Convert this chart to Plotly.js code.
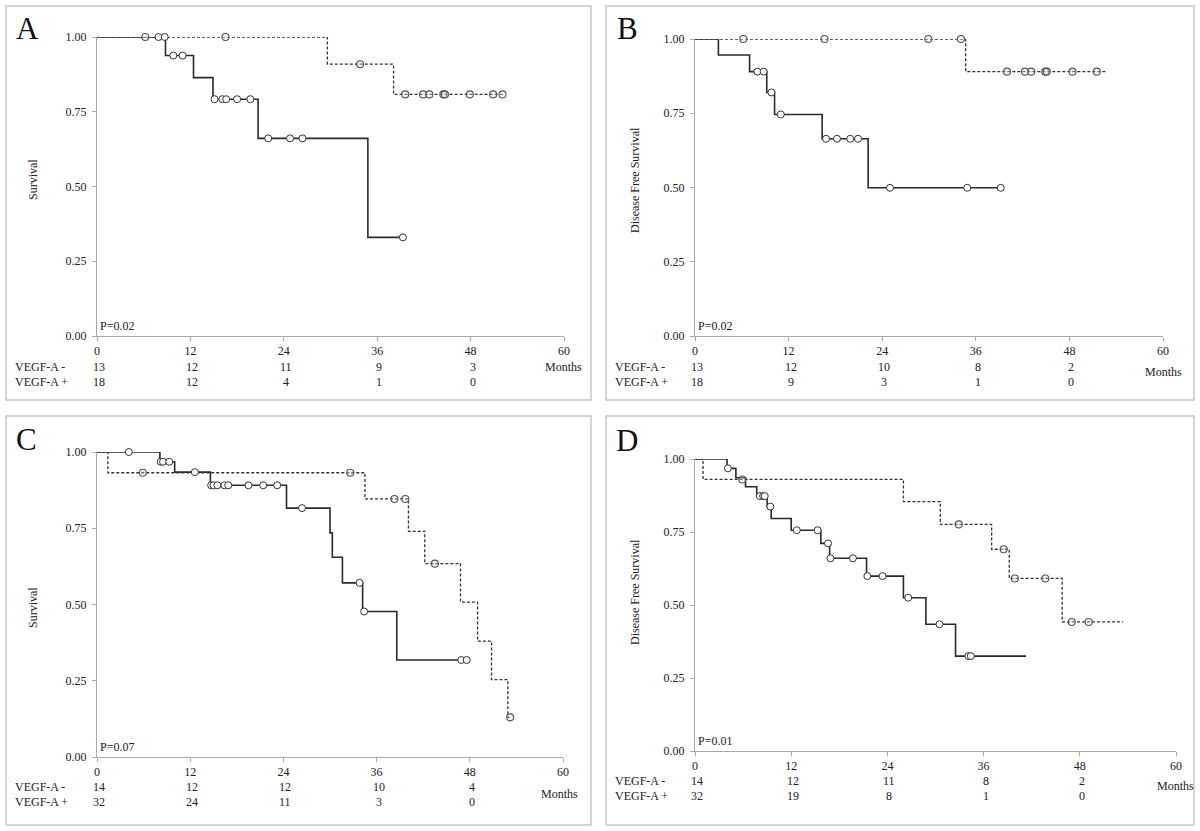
<!DOCTYPE html>
<html><head><meta charset="utf-8">
<script src="https://cdn.plot.ly/plotly-3.0.1.min.js"></script>
<style>html,body{margin:0;padding:0;background:#fff}#chart{width:1200px;height:831px}</style>
</head><body><div id="chart"></div>
<script>
// ---------------- DATA ----------------
const monthTicks = [0, 12, 24, 36, 48, 60];
const survTicks = [0, 0.25, 0.5, 0.75, 1];
const rowLabels = ['VEGF-A -', 'VEGF-A +'];
const panelLetters = ['A', 'B', 'C', 'D'];
const yTitles = ['Survival', 'Disease Free Survival', 'Survival', 'Disease Free Survival'];
const pValues = ['P=0.02', 'P=0.02', 'P=0.07', 'P=0.01'];

// Panel A (overall survival)
const aNegDropT = [29.6, 38.1];
const aNegDropS = [0.909, 0.808];
const aNegEnd = 52.1;
const aNegCens = [6.2, 16.5, 33.8, 39.6, 41.9, 42.7, 44.5, 44.7, 47.9, 50.9, 52.1];
const aPosDropT = [8.8, 12.4, 14.9, 20.7, 34.8];
const aPosDropS = [0.938, 0.864, 0.792, 0.661, 0.330];
const aPosEnd = 39.3;
const aPosCens = [7.9, 8.7, 9.8, 11.0, 15.1, 16.1, 16.6, 18.0, 19.7, 22.0, 24.8, 26.4, 39.3];
const aRiskNeg = [13, 12, 11, 9, 3];
const aRiskPos = [18, 12, 4, 1, 0];

// Panel B (disease free survival)
const bNegDropT = [34.7];
const bNegDropS = [0.890];
const bNegEnd = 52.8;
const bNegCens = [6.2, 16.6, 29.9, 34.1, 40.0, 42.3, 43.1, 44.9, 45.1, 48.4, 51.5];
const bPosDropT = [3.0, 7.0, 9.2, 10.2, 16.3, 22.2];
const bPosDropS = [0.946, 0.890, 0.820, 0.746, 0.664, 0.499];
const bPosEnd = 39.2;
const bPosCens = [8.0, 8.8, 9.8, 11.0, 16.8, 18.2, 19.9, 20.9, 25.0, 34.9, 39.2];
const bRiskNeg = [13, 12, 10, 8, 2];
const bRiskPos = [18, 9, 3, 1, 0];

// Panel C (overall survival)
const cNegDropT = [1.4, 34.5, 40.1, 42.2, 46.8, 49.0, 50.8, 52.9];
const cNegDropS = [0.932, 0.846, 0.740, 0.634, 0.508, 0.380, 0.254, 0.130];
const cNegEnd = 53.2;
const cNegCens = [5.9, 32.6, 38.3, 39.7, 43.5, 53.2];
const cPosDropT = [8.1, 10.0, 14.6, 24.4, 30.0, 30.3, 31.6, 34.2, 38.6];
const cPosDropS = [0.968, 0.934, 0.891, 0.816, 0.735, 0.655, 0.571, 0.477, 0.318];
const cPosEnd = 47.6;
const cPosCens = [4.1, 8.2, 8.5, 9.3, 12.6, 14.7, 15.0, 15.5, 16.4, 16.9, 19.5, 21.4, 23.2, 26.4, 33.8, 34.4, 46.9, 47.6];
const cRiskNeg = [14, 12, 12, 10, 4];
const cRiskPos = [32, 24, 11, 3, 0];

// Panel D (disease free survival)
const dNegDropT = [1.0, 26.0, 30.6, 37.0, 39.2, 45.8];
const dNegDropS = [0.930, 0.854, 0.776, 0.691, 0.591, 0.442];
const dNegEnd = 53.4;
const dNegCens = [5.9, 32.9, 38.5, 39.9, 43.7, 47.0, 49.1];
const dPosDropT = [4.0, 5.1, 6.3, 7.7, 9.0, 9.5, 12.0, 15.7, 16.8, 21.4, 26.0, 28.8, 32.5];
const dPosDropS = [0.968, 0.936, 0.905, 0.873, 0.837, 0.796, 0.756, 0.711, 0.660, 0.599, 0.525, 0.434, 0.325];
const dPosEnd = 41.3;
const dPosCens = [4.1, 8.1, 8.5, 8.7, 9.4, 12.7, 15.3, 16.6, 16.9, 19.7, 21.5, 23.4, 26.6, 30.5, 34.1, 34.4];
const dRiskNeg = [14, 12, 11, 8, 2];
const dRiskPos = [32, 19, 8, 1, 0];

// ---------------- BUILD ----------------
const W = 1200, H = 831;
const px = v => v / W;
const py = v => 1 - v / H;
const SERIF = 'Liberation Serif, Times New Roman, serif';

function stepXY(dropT, dropS, endT) {
  const x = [0], y = [1];
  dropT.forEach((t, i) => { x.push(t); y.push(dropS[i]); });
  x.push(endT); y.push(dropS.length ? dropS[dropS.length - 1] : 1);
  return {x, y};
}
function survAt(t, dropT, dropS) {
  let s = 1;
  dropT.forEach((d, i) => { if (d <= t) s = dropS[i]; });
  return s;
}

const panels = [
  {neg: [aNegDropT, aNegDropS, aNegEnd, aNegCens], pos: [aPosDropT, aPosDropS, aPosEnd, aPosCens], risk: [aRiskNeg, aRiskPos],
   plot: [97, 564, 37, 336], frame: [6, 6, 591, 400], letter: [27, 29], ytitle: [33, 180], rows: [367, 382], months: [367, -1]},
  {neg: [bNegDropT, bNegDropS, bNegEnd, bNegCens], pos: [bPosDropT, bPosDropS, bPosEnd, bPosCens], risk: [bRiskNeg, bRiskPos],
   plot: [695, 1163, 39, 336], frame: [606, 6, 1194, 400], letter: [627, 29], ytitle: [635, 180], rows: [367, 382], months: [372, 0]},
  {neg: [cNegDropT, cNegDropS, cNegEnd, cNegCens], pos: [cPosDropT, cPosDropS, cPosEnd, cPosCens], risk: [cRiskNeg, cRiskPos],
   plot: [97, 563, 452, 757], frame: [6, 416, 591, 825], letter: [26, 439], ytitle: [33, 608], rows: [787, 802], months: [794, -4]},
  {neg: [dNegDropT, dNegDropS, dNegEnd, dNegCens], pos: [dPosDropT, dPosDropS, dPosEnd, dPosCens], risk: [dRiskNeg, dRiskPos],
   plot: [695, 1176, 459, 751], frame: [606, 416, 1194, 825], letter: [627, 440], ytitle: [635, 592], rows: [781, 796], months: [786, -1]}
];

const traces = [];
const layout = {
  width: W, height: H, margin: {l: 0, r: 0, t: 0, b: 0},
  paper_bgcolor: '#fff', plot_bgcolor: 'rgba(0,0,0,0)',
  showlegend: false, font: {family: SERIF, size: 12, color: '#222'},
  shapes: [], annotations: []
};

panels.forEach((p, k) => {
  const sfx = k === 0 ? '' : String(k + 1);
  const xa = 'x' + sfx, ya = 'y' + sfx;
  const [x0, x1, yt, yb] = p.plot;
  layout['xaxis' + sfx] = {
    domain: [px(x0), px(x1)], range: [0, 60], anchor: ya,
    tickvals: monthTicks, ticks: 'outside', ticklen: 4, tickcolor: '#aaa',
    showline: true, linecolor: '#aaa', linewidth: 1, showgrid: false, zeroline: false,
    tickfont: {family: SERIF, size: 12, color: '#222'}, fixedrange: true
  };
  layout['yaxis' + sfx] = {
    domain: [py(yb), py(yt)], range: [0, 1], anchor: xa,
    tickvals: survTicks, tickformat: '.2f', ticks: 'outside', ticklen: 4, tickcolor: '#aaa',
    showline: true, linecolor: '#aaa', linewidth: 1, showgrid: false, zeroline: false,
    tickfont: {family: SERIF, size: 12, color: '#222'}, ticklabelstandoff: 3, fixedrange: true
  };

  // curves: solid = VEGF-A +, dashed = VEGF-A -
  const sPos = stepXY(p.pos[0], p.pos[1], p.pos[2]);
  traces.push({x: sPos.x, y: sPos.y, xaxis: xa, yaxis: ya, mode: 'lines', line: {shape: 'hv', color: '#2a2a2a', width: 1.6}, cliponaxis: false, hoverinfo: 'skip'});
  const sNeg = stepXY(p.neg[0], p.neg[1], p.neg[2]);
  traces.push({x: sNeg.x, y: sNeg.y, xaxis: xa, yaxis: ya, mode: 'lines', line: {shape: 'hv', color: '#333', width: 1.3, dash: '3px,2px'}, cliponaxis: false, hoverinfo: 'skip'});
  traces.push({x: p.neg[3], y: p.neg[3].map(t => survAt(t, p.neg[0], p.neg[1])), xaxis: xa, yaxis: ya, mode: 'markers',
    marker: {symbol: 'circle', size: 7, color: 'rgba(220,220,220,0.35)', line: {color: '#555', width: 1.1}}, cliponaxis: false, hoverinfo: 'skip'});
  traces.push({x: p.pos[3], y: p.pos[3].map(t => survAt(t, p.pos[0], p.pos[1])), xaxis: xa, yaxis: ya, mode: 'markers',
    marker: {symbol: 'circle', size: 7, color: '#fff', line: {color: '#333', width: 1}}, cliponaxis: false, hoverinfo: 'skip'});

  // frame
  const [fx0, fy0, fx1, fy1] = p.frame;
  layout.shapes.push({type: 'rect', xref: 'paper', yref: 'paper', x0: px(fx0), x1: px(fx1), y0: py(fy1), y1: py(fy0),
    line: {color: '#c8c8c8', width: 1.5}, fillcolor: 'rgba(0,0,0,0)'});

  // letter
  layout.annotations.push({xref: 'paper', yref: 'paper', x: px(p.letter[0]), y: py(p.letter[1]), text: panelLetters[k],
    showarrow: false, xanchor: 'center', yanchor: 'middle', font: {family: SERIF, size: 31, color: '#111'}});
  // y title
  layout.annotations.push({xref: 'paper', yref: 'paper', x: px(p.ytitle[0]), y: py(p.ytitle[1]), text: yTitles[k],
    textangle: -90, showarrow: false, xanchor: 'center', yanchor: 'middle', font: {family: SERIF, size: 12, color: '#222'}});
  // p value
  layout.annotations.push({xref: xa, yref: 'paper', x: 0, y: py(yb - 1), text: pValues[k], showarrow: false,
    xanchor: 'left', yanchor: 'bottom', xshift: 1, font: {family: SERIF, size: 12, color: '#222'}});
  // risk rows
  rowLabels.forEach((lab, r) => {
    layout.annotations.push({xref: 'paper', yref: 'paper', x: px(fx0 + 7), y: py(p.rows[r]), text: lab, showarrow: false,
      xanchor: 'left', yanchor: 'middle', font: {family: SERIF, size: 12, color: '#222'}});
    p.risk[r].forEach((n, i) => {
      layout.annotations.push({xref: xa, yref: 'paper', x: monthTicks[i], y: py(p.rows[r]), text: String(n), showarrow: false,
        xanchor: 'center', yanchor: 'middle', xshift: 2, font: {family: SERIF, size: 12, color: '#222'}});
    });
  });
  // Months
  layout.annotations.push({xref: xa, yref: 'paper', x: 60, y: py(p.months[0]), text: 'Months', showarrow: false,
    xanchor: 'center', yanchor: 'middle', xshift: p.months[1], font: {family: SERIF, size: 12, color: '#222'}});
});

Plotly.newPlot('chart', traces, layout, {staticPlot: true, displayModeBar: false});
</script>
</body></html>
